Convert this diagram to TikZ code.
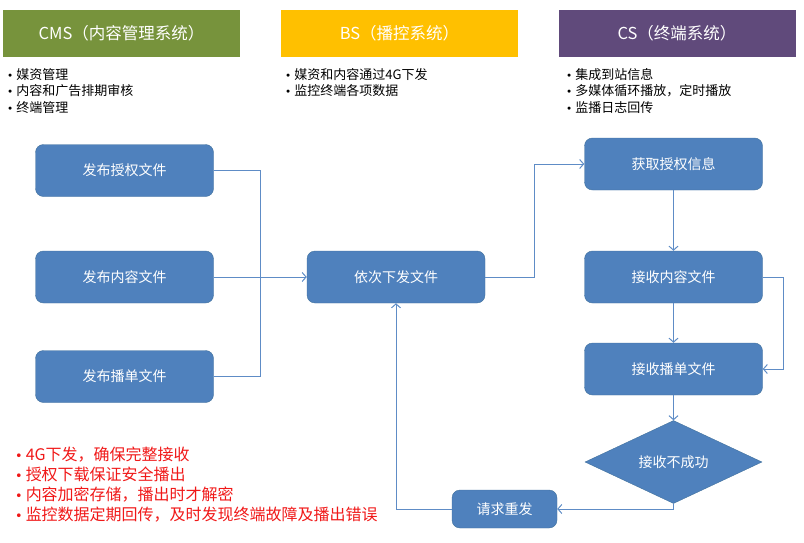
\documentclass[tikz,border=0pt]{standalone}
\usepackage{fontspec}
\setmainfont{Noto Sans CJK SC}
\newfontfamily\dejavu{DejaVu Sans}
\usepackage{tikz}
\usetikzlibrary{shapes.geometric}
\usetikzlibrary{arrows.meta}
\usetikzlibrary{positioning}
\definecolor{cmsgreen}{HTML}{77933C}
\definecolor{bsyellow}{HTML}{FFC000}
\definecolor{cspurple}{HTML}{604A7B}
\definecolor{boxblue}{HTML}{4F81BD}
\definecolor{boxedge}{HTML}{41719C}
\definecolor{lineblue}{HTML}{5E8CC6}
\definecolor{notered}{HTML}{F01818}
\newcommand{\dotmark}{{\dejavu\scalebox{0.8}{•}}\hspace{3pt}}

\begin{document}
\begin{tikzpicture}[x=1pt,y=-1pt,
      hdr/.style={minimum width=237pt,minimum height=47pt,inner sep=0pt,text=white,font=\fontsize{16.5}{19}\selectfont},
      blk/.style={rounded corners=8pt,fill=boxblue,draw=boxedge,minimum width=178pt,minimum height=52pt,inner sep=0pt,text=white,font=\fontsize{14}{17}\selectfont},
      dia/.style={diamond,fill=boxblue,draw=boxedge,minimum width=177pt,minimum height=51pt,inner sep=0pt,text=white,font=\fontsize{14}{17}\selectfont},
      bul/.style={anchor=west,align=left,inner sep=0pt,font=\fontsize{13}{16.5}\selectfont},
      conn/.style={draw=lineblue,line width=1pt},
      arr/.style={conn,-{Straight Barb[length=4pt,width=9pt]}},
    ]
    \useasboundingbox (0,0) rectangle (804,543);

    % headers
    \node[hdr,fill=cmsgreen] (cms) at (121.5,33.5) {CMS（内容管理系统）};
    \node[hdr,fill=bsyellow] (bs) at (399.5,33.5) {BS（播控系统）};
    \node[hdr,fill=cspurple] (cs) at (677,33.5) {CS（终端系统）};

    \node[bul] (cmsnote) at (7,91) {\dotmark 媒资管理\\\dotmark 内容和广告排期审核\\\dotmark 终端管理};
    \node[bul] (bsnote) at (285,82.5) {\dotmark 媒资和内容通过4G下发\\\dotmark 监控终端各项数据};
    \node[bul] (csnote) at (566,91) {\dotmark 集成到站信息\\\dotmark 多媒体循环播放，定时播放\\\dotmark 监播日志回传};

    % CMS column
    \node[blk] (pubauth) at (124.5,170.5) {发布授权文件};
    \node[blk] (pubcont) at (124.5,277) {发布内容文件};
    \node[blk] (publist) at (124.5,376.5) {发布播单文件};

    % BS column
    \node[blk] (dispatch) at (396,277) {依次下发文件};
    \node[blk,minimum width=105pt,minimum height=38pt] (resend) at (504.5,509) {请求重发};

    % CS column
    \node[blk] (getauth) at (673.5,164) {获取授权信息};
    \node[blk] (recvcont) at (673.5,277) {接收内容文件};
    \node[blk] (recvlist) at (673.5,369) {接收播单文件};
    \node[dia] (fail) at (673.5,462) {接收不成功};

    \node[bul,text=notered,font=\fontsize{16}{20}\selectfont] (notes) at (15,485)
      {\dotmark 4G下发，确保完整接收\\\dotmark 授权下载保证安全播出\\\dotmark 内容加密存储，播出时才解密\\\dotmark 监控数据定期回传，及时发现终端故障及播出错误};

    % connectors
    \coordinate (join) at (260,277);
    \draw[conn] (pubauth.east) -| (join);
    \draw[conn] (publist.east) -| (join);
    \draw[arr] (pubcont.east) -- (dispatch.west);
    \draw[arr] (dispatch.east) -- ++(49,0) |- (getauth.west);
    \draw[arr] (getauth) -- (recvcont);
    \draw[arr] (recvcont) -- (recvlist);
    \draw[arr] (recvcont.east) -- ++(21,0) |- (recvlist.east);
    \draw[arr] (recvlist) -- (fail);
    \draw[arr] (fail.south) |- (resend.east);
    \draw[arr] (resend.west) -| (dispatch.south);
\end{tikzpicture}
\end{document}
